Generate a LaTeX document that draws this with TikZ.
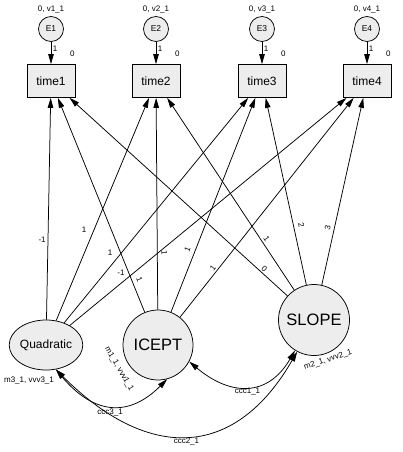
\documentclass[tikz,border=0pt]{standalone}
\usepackage{fontspec}
\setmainfont{Liberation Sans}
\usetikzlibrary{positioning,arrows.meta,shapes.geometric}

\tikzset{
  obs/.style={draw, fill=gray!14, minimum width=48pt, minimum height=33pt,
    inner sep=0pt, font=\fontsize{12}{14}\selectfont},
  err/.style={draw, circle, fill=gray!14, minimum size=25pt, inner sep=0pt,
    font=\fontsize{8.5}{10}\selectfont},
  latent/.style={draw, fill=gray!14, inner sep=0pt},
  lbl/.style={font=\fontsize{8}{9}\selectfont, inner sep=1.5pt},
  reg/.style={->},
  cov/.style={<->}
}

\begin{document}
\begin{tikzpicture}[x=1pt, y=1pt, line width=0.75pt,
    >={Triangle[length=10pt,width=5.5pt]}]
    \useasboundingbox (0,0) rectangle (402,-452);
    % observed variables with their errors
    \foreach \i/\x in {1/51,2/156,3/262,4/367} {
      \node[obs] (t\i) at (\x,-81) {time\i};
      \node[err] (e\i) at (\x,-29) {E\i};
      \node[lbl, above=1pt of e\i] (v\i) {0, v\i\_1};
      \node[lbl] (z\i) at ([xshift=-3pt,yshift=10pt]t\i.north east) {0};
      \draw[reg] (e\i) -- node[lbl, right, pos=0.3] {1} (t\i);
    }
    % growth factors
    \node[latent, ellipse, minimum width=70pt, minimum height=50pt,
      font=\fontsize{12}{14}\selectfont] (quad) at (46,-345) {Quadratic};
    \node[latent, circle, minimum size=70pt,
      font=\fontsize{16.5}{19}\selectfont] (icept) at (158,-345) {ICEPT};
    \node[latent, circle, minimum size=71pt,
      font=\fontsize{16.5}{19}\selectfont] (slope) at (314,-320) {SLOPE};
    \node[lbl] (mq) at (29,-380) {m3\_1, vvv3\_1};
    \node[lbl, rotate=-60] (mi) at (119,-369) {m1\_1, vvv1\_1};
    \node[lbl, rotate=18] (ms) at (328,-360) {m2\_1, vvv2\_1};
    % Quadratic loadings
    \draw[reg] (quad) -- node[lbl, left=0.5pt, pos=0.36] {-1} (t1);
    \draw[reg] (quad) -- node[lbl, left=6pt, pos=0.41] {1} (t2);
    \draw[reg] (quad) -- node[lbl, left=7pt, pos=0.31] {1} (t3);
    \draw[reg] (quad) -- node[lbl, left=7pt, pos=0.23] {-1} (t4);
    % ICEPT loadings
    \draw[reg] (icept) -- node[lbl, sloped, above=3pt, pos=0.14] {1} (t1);
    \draw[reg] (icept) -- node[lbl, sloped, above=2.5pt, pos=0.27] {1} (t2);
    \draw[reg] (icept) -- node[lbl, sloped, above=3pt, pos=0.28] {1} (t3);
    \draw[reg] (icept) -- node[lbl, sloped, above=0pt, pos=0.21] {1} (t4);
    % SLOPE loadings
    \draw[reg] (slope) -- node[lbl, sloped, above=0pt, pos=0.12] {0} (t1);
    \draw[reg] (slope) -- node[lbl, sloped, above=0.5pt, pos=0.25] {1} (t2);
    \draw[reg] (slope) -- node[lbl, sloped, above=3pt, pos=0.31] {2} (t3);
    \draw[reg] (slope) -- node[lbl, sloped, above=2pt, pos=0.30] {3} (t4);
    % covariances
    \draw[cov] (icept.-28) to[out=-40, in=-120, looseness=1.3]
      node[lbl, below] {ccc1\_1} (slope.-122);
    \draw[cov] (quad.-68) to[out=-50, in=-135, looseness=1.3]
      node[lbl, below=1pt] {ccc3\_1} (icept.-75);
    \draw[cov] (quad.-68) to[out=-45, in=-120, looseness=1.35]
      node[lbl, below] {ccc2\_1} (slope.-118);
\end{tikzpicture}
\end{document}
